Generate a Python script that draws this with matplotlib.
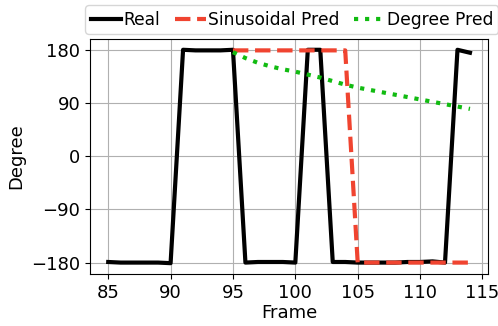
import numpy as np
import matplotlib
matplotlib.use("Agg")
import matplotlib.pyplot as plt

# frames and series
frames = list(range(85, 115))
real = [-179, -180, -180, -180, -180, -181, 180, 179, 179, 179,
        180, -180, -179, -179, -179, -180, 180, 180, -179, -179,
        -180, -180, -180, -180, -179, -179, -178, -180, 180, 175]

pred_frames = list(range(95, 115))
sin_pred = [179, 179, 179, 179, 179, 179, 179, 179, 179, 179,
            -180, -180, -180, -180, -180, -180, -180, -180, -180, -180]
deg_pred = [176, 166, 158, 152, 147, 143, 138, 133, 127, 121,
            116, 112, 108, 104, 100, 96, 92, 88, 84, 80]

fig, ax = plt.subplots(figsize=(4.98, 3.26), dpi=100)
fig.subplots_adjust(left=0.181, right=0.98, bottom=0.16, top=0.88)

ax.plot(frames, real, color="black", linewidth=3, label="Real")
ax.plot(pred_frames, sin_pred, color="#f04430", linewidth=3, linestyle="--", label="Sinusoidal Pred")
ax.plot(pred_frames, deg_pred, color="#11bb11", linewidth=3, linestyle=":", label="Degree Pred")

ax.set_yticks([-180, -90, 0, 90, 180])
ax.set_xticks([85, 90, 95, 100, 105, 110, 115])
ax.tick_params(labelsize=13)
ax.set_xlabel("Frame", fontsize=13, labelpad=2)
ax.set_ylabel("Degree", fontsize=13)
ax.grid(True, color="#b0b0b0")

ax.legend(loc="upper center", bbox_to_anchor=(0.507, 1.18), ncol=3, fontsize=12.3,
          handlelength=1.8, handletextpad=0.1, columnspacing=0.9, borderpad=0.3)

fig.savefig("out.png")
